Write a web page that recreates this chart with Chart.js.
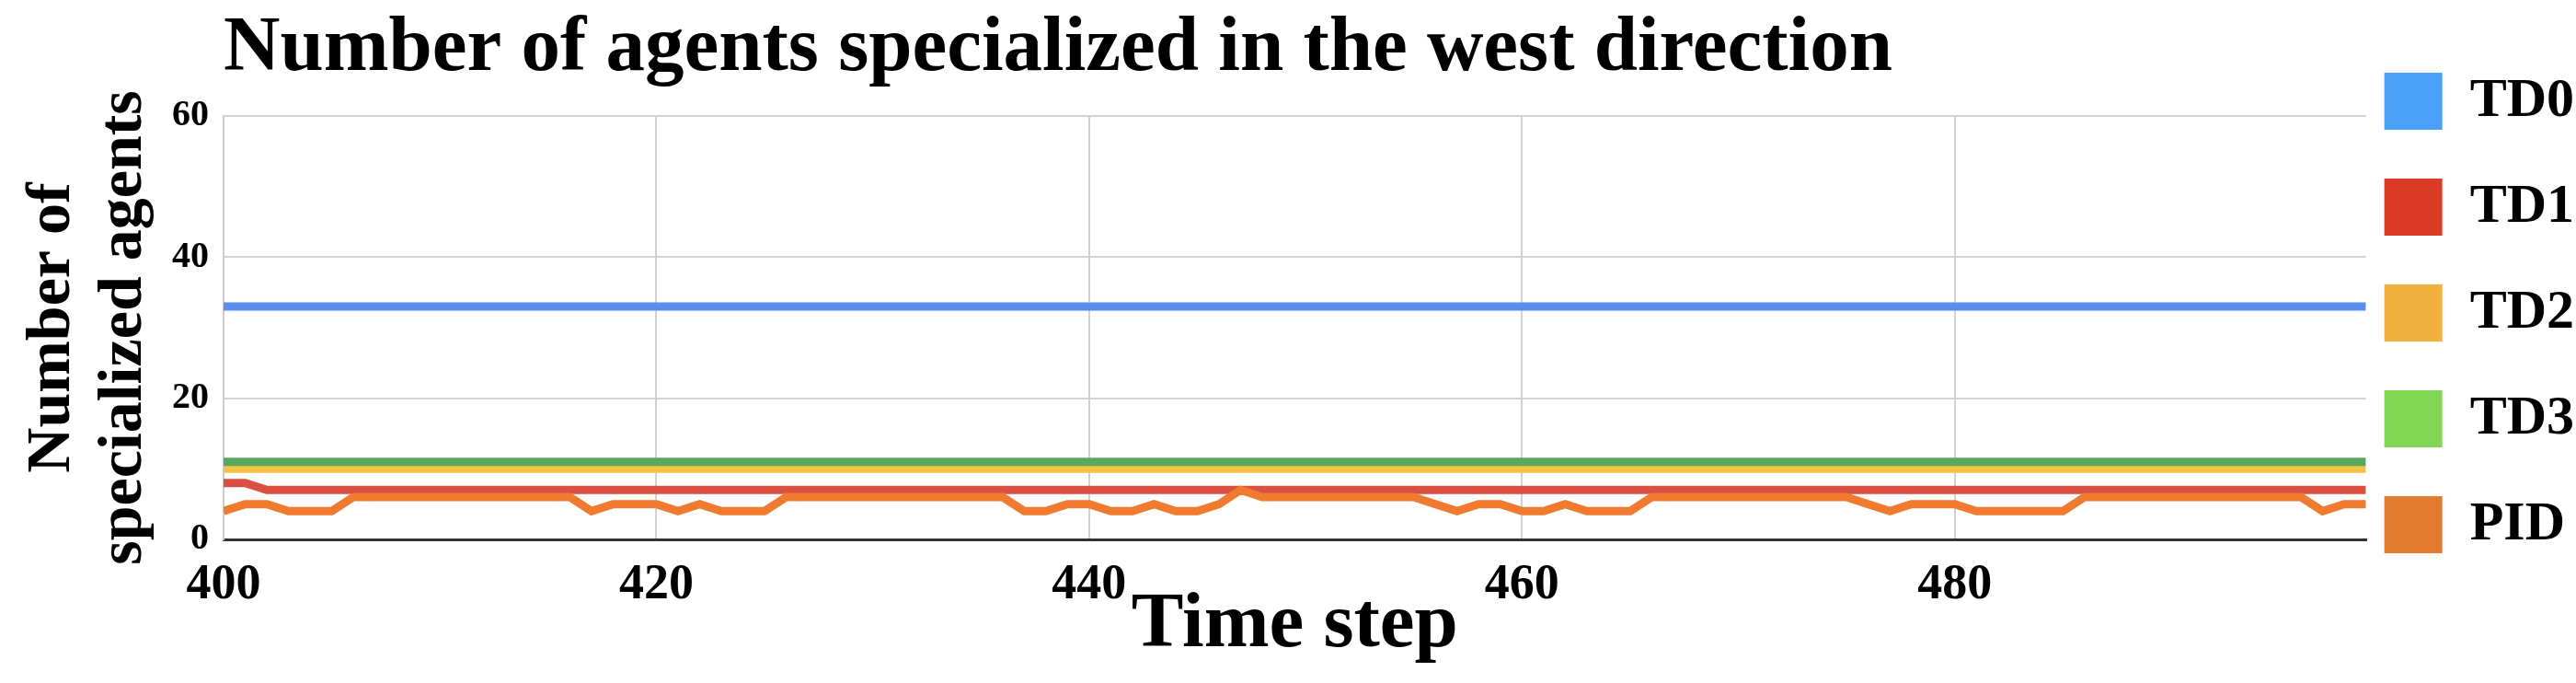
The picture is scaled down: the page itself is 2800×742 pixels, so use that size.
<!DOCTYPE html>
<html><head><meta charset="utf-8">
<script src="https://cdn.jsdelivr.net/npm/chart.js@4.4.1/dist/chart.umd.min.js"></script>
<style>html,body{margin:0;padding:0;background:#fff;overflow:hidden}canvas{display:block}</style>
</head><body>
<canvas id="c" width="2800" height="742"></canvas>
<script>
// ---- data ----
const timeSteps = [
  400,401,402,403,404,405,406,407,408,409,
  410,411,412,413,414,415,416,417,418,419,
  420,421,422,423,424,425,426,427,428,429,
  430,431,432,433,434,435,436,437,438,439,
  440,441,442,443,444,445,446,447,448,449,
  450,451,452,453,454,455,456,457,458,459,
  460,461,462,463,464,465,466,467,468,469,
  470,471,472,473,474,475,476,477,478,479,
  480,481,482,483,484,485,486,487,488,489,
  490,491,492,493,494,495,496,497,498,499
];
const seriesNames = ['TD0', 'TD1', 'TD2', 'TD3', 'PID'];
const td0 = [
  33,33,33,33,33,33,33,33,33,33, 33,33,33,33,33,33,33,33,33,33,
  33,33,33,33,33,33,33,33,33,33, 33,33,33,33,33,33,33,33,33,33,
  33,33,33,33,33,33,33,33,33,33, 33,33,33,33,33,33,33,33,33,33,
  33,33,33,33,33,33,33,33,33,33, 33,33,33,33,33,33,33,33,33,33,
  33,33,33,33,33,33,33,33,33,33, 33,33,33,33,33,33,33,33,33,33
];
const td1 = [
  8,8,7,7,7,7,7,7,7,7, 7,7,7,7,7,7,7,7,7,7,
  7,7,7,7,7,7,7,7,7,7, 7,7,7,7,7,7,7,7,7,7,
  7,7,7,7,7,7,7,7,7,7, 7,7,7,7,7,7,7,7,7,7,
  7,7,7,7,7,7,7,7,7,7, 7,7,7,7,7,7,7,7,7,7,
  7,7,7,7,7,7,7,7,7,7, 7,7,7,7,7,7,7,7,7,7
];
const td2 = [
  10,10,10,10,10,10,10,10,10,10, 10,10,10,10,10,10,10,10,10,10,
  10,10,10,10,10,10,10,10,10,10, 10,10,10,10,10,10,10,10,10,10,
  10,10,10,10,10,10,10,10,10,10, 10,10,10,10,10,10,10,10,10,10,
  10,10,10,10,10,10,10,10,10,10, 10,10,10,10,10,10,10,10,10,10,
  10,10,10,10,10,10,10,10,10,10, 10,10,10,10,10,10,10,10,10,10
];
const td3 = [
  11,11,11,11,11,11,11,11,11,11, 11,11,11,11,11,11,11,11,11,11,
  11,11,11,11,11,11,11,11,11,11, 11,11,11,11,11,11,11,11,11,11,
  11,11,11,11,11,11,11,11,11,11, 11,11,11,11,11,11,11,11,11,11,
  11,11,11,11,11,11,11,11,11,11, 11,11,11,11,11,11,11,11,11,11,
  11,11,11,11,11,11,11,11,11,11, 11,11,11,11,11,11,11,11,11,11
];
const pid = [
  4,5,5,4,4,4,6,6,6,6,
  6,6,6,6,6,6,6,4,5,5,
  5,4,5,4,4,4,6,6,6,6,
  6,6,6,6,6,6,6,4,4,5,
  5,4,4,5,4,4,5,7,6,6,
  6,6,6,6,6,6,5,4,5,5,
  4,4,5,4,4,4,6,6,6,6,
  6,6,6,6,6,6,5,4,5,5,
  5,4,4,4,4,4,6,6,6,6,
  6,6,6,6,6,6,6,4,5,5
];
const xTickValues = [400, 420, 440, 460, 480];
const yTickValues = [0, 20, 40, 60];
const titleText = 'Number of agents specialized in the west direction';
const xTitle = 'Time step';
const yTitle = ['Number of', 'specialized agents'];

// ---- styles ----
const lineColors   = ['#5a8cec', '#da4f41', '#f4c244', '#58a85f', '#ef7a30'];
const legendColors = ['#4aa0f6', '#db3b26', '#f2b13f', '#83d653', '#e27a2f'];
const drawOrder    = [4, 3, 2, 1, 0];
const seriesValues = [td0, td1, td2, td3, pid];
const SERIF = "'Liberation Serif', 'Times New Roman', serif";

Chart.defaults.font.family = SERIF;
Chart.defaults.color = '#000';

const datasets = seriesNames.map((name, i) => ({
  label: name,
  data: seriesValues[i],
  borderColor: lineColors[i],
  backgroundColor: legendColors[i],
  borderWidth: 9,
  pointRadius: 0,
  pointHoverRadius: 0,
  tension: 0,
  fill: false,
  order: drawOrder[i]
}));

new Chart(document.getElementById('c'), {
  type: 'line',
  data: { labels: timeSteps, datasets },
  options: {
    responsive: false,
    animation: false,
    devicePixelRatio: 1,
    layout: { padding: { left: 0, right: -8, top: 0, bottom: 0 } },
    plugins: {
      tooltip: { enabled: false },
      title: {
        display: true,
        text: titleText,
        align: 'start',
        fullSize: false,
        color: '#000',
        font: { size: 85, weight: 'bold', family: SERIF, lineHeight: 1.2 },
        padding: { top: 3, bottom: 21 }
      },
      legend: {
        position: 'right',
        align: 'start',
        title: { display: true, text: '', font: { size: 10, lineHeight: 1 }, padding: { top: 49, bottom: 0 } },
        labels: {
          boxWidth: 63,
          boxHeight: 62,
          padding: 20,
          color: '#000',
          font: { size: 60, weight: 'bold', family: SERIF, lineHeight: 95 / 60 },
          generateLabels: (chart) => chart.data.datasets.map((ds, i) => ({
            text: [ds.label],
            fillStyle: legendColors[i],
            strokeStyle: legendColors[i],
            lineWidth: 0,
            fontColor: '#000',
            hidden: false,
            datasetIndex: i
          }))
        }
      }
    },
    scales: {
      x: {
        type: 'linear',
        min: 400,
        max: 499,
        offset: false,
        afterFit: (s) => { s.height = 156; },
        afterBuildTicks: (s) => { s.ticks = xTickValues.map(v => ({ value: v })); },
        ticks: {
          autoSkip: false,
          maxRotation: 0,
          padding: 18,
          color: '#000',
          font: { size: 54, weight: 'bold', family: SERIF }
        },
        grid: { color: '#d2d2d2', lineWidth: 2, drawTicks: false },
        border: { color: '#333333', width: 3 },
        title: {
          display: true,
          text: xTitle,
          color: '#000',
          font: { size: 85, weight: 'bold', family: SERIF, lineHeight: 1.2 },
          padding: { top: 0, bottom: 11 }
        }
      },
      y: {
        min: 0,
        max: 60,
        afterFit: (s) => { s.width = 243; },
        afterBuildTicks: (s) => { s.ticks = yTickValues.map(v => ({ value: v })); },
        ticks: {
          padding: 16,
          color: '#000',
          font: { size: 40, weight: 'bold', family: SERIF }
        },
        grid: { color: '#d2d2d2', lineWidth: 2, drawTicks: false },
        border: { color: '#cccccc', width: 2 },
        title: {
          display: true,
          text: yTitle,
          color: '#000',
          font: { size: 68, weight: 'bold', family: SERIF, lineHeight: 78 / 68 },
          padding: { top: 18, bottom: 0 }
        }
      }
    }
  }
});
</script>
</body></html>
